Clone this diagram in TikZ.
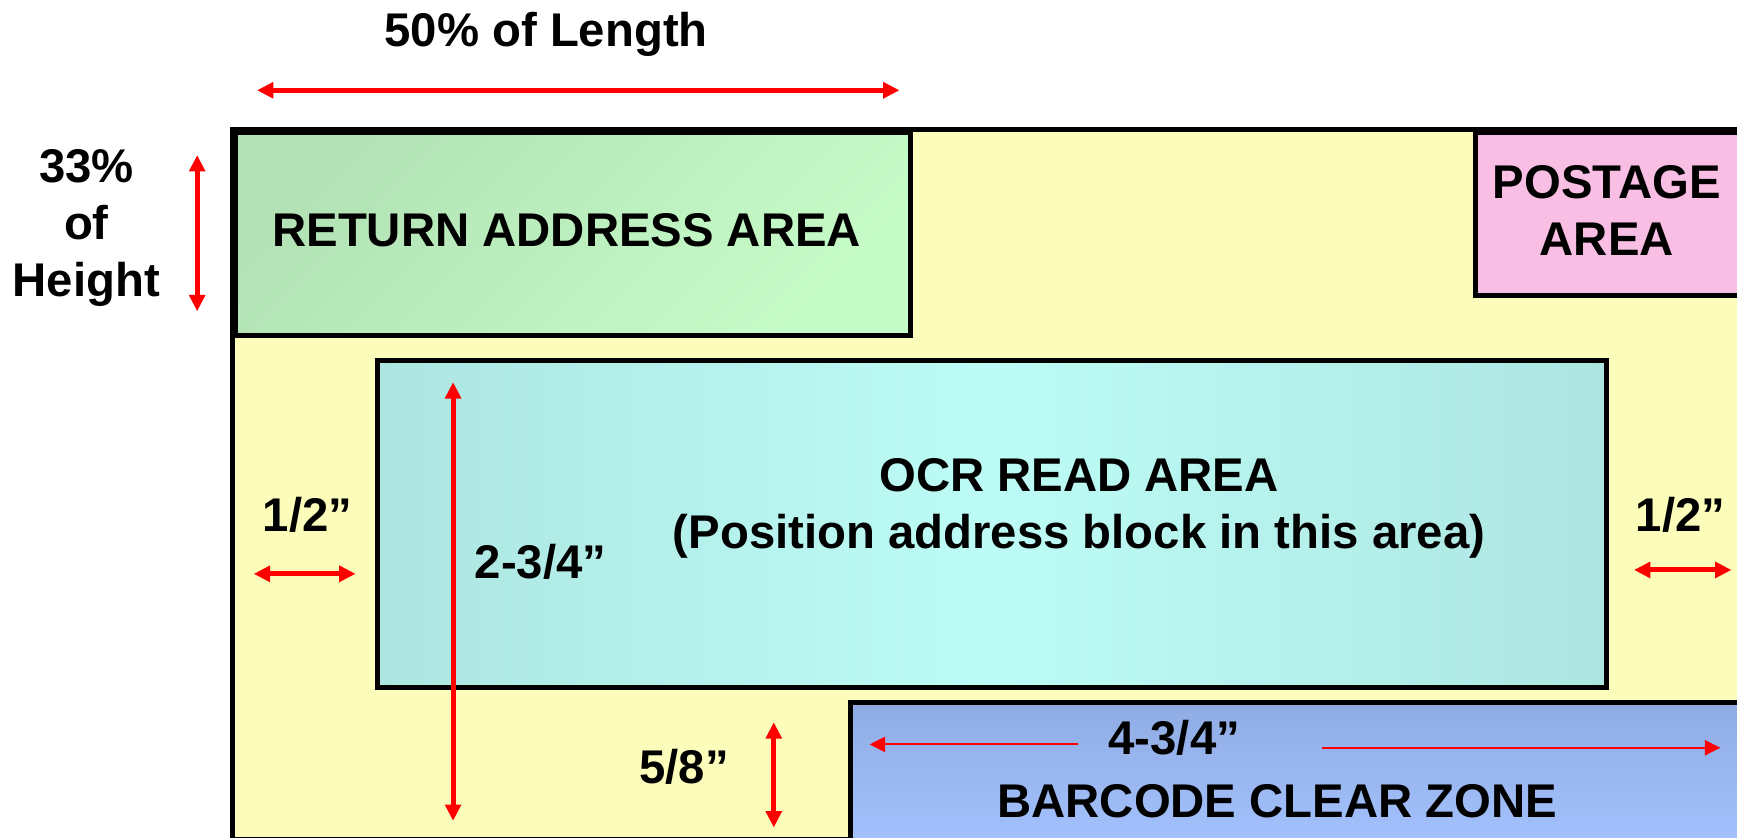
\documentclass[tikz,border=0pt]{standalone}
\usepackage{fontspec}
\setmainfont{Liberation Sans}
\usetikzlibrary{arrows.meta}
\definecolor{envyellow}{HTML}{FCFDBB}
\definecolor{retA}{HTML}{B2E2B5}
\definecolor{retB}{HTML}{C6FCC8}
\definecolor{postpink}{HTML}{F9BEE3}
\definecolor{ocrA}{HTML}{ADE5E1}
\definecolor{ocrB}{HTML}{BDFCF6}
\definecolor{barA}{HTML}{90ACE4}
\definecolor{barB}{HTML}{A3C1FD}
\begin{document}
\begin{tikzpicture}[x=0.1mm,y=-0.1mm,
    lbl/.style={font=\fontsize{12.15}{14.7}\selectfont\bfseries,inner sep=0pt},
    area/.style={line width=1.3pt},
    dim/.style={red,line width=1.3pt,{Triangle[width=4pt,length=4.2pt]}-{Triangle[width=4pt,length=4.2pt]}},
    halfdim/.style={red,line width=0.5pt,-{Triangle[width=3.9pt,length=4pt]}}]
    \useasboundingbox (0,0) rectangle (1568,756);
    %envelope and the areas on it
    \filldraw[area,fill=envyellow] (210,116.8) rectangle (1700,757.5);
    \shadedraw[area,top color=retA,bottom color=retB,shading angle=45] (212.5,119.5) rectangle (821.5,303);
    \filldraw[area,fill=postpink] (1332,119.5) rectangle (1700,266.4);
    \shadedraw[area,left color=ocrA,right color=ocrA,middle color=ocrB] (340.5,325.5) rectangle (1450,620.5);
    \shadedraw[area,top color=barA,bottom color=barB] (768,634) rectangle (1700,762);
    %labels
    \node[lbl,anchor=base] (len) at (493,42) {50\% of Length};
    \node[lbl,align=center] (hgt) at (78,206) {33\%\\of\\Height};
    \node[lbl,anchor=base] (ret) at (511.6,222.6) {RETURN ADDRESS AREA};
    \node[lbl,align=center] (post) at (1450.5,189.7) {POSTAGE\\AREA};
    \node[lbl,align=center] (ocr) at (974,458.8) {OCR READ AREA\\(Position address block in this area)};
    \node[lbl,anchor=base] (lhalf) at (277.5,480) {1/2”};
    \node[lbl,anchor=base] (rhalf) at (1517,480) {1/2”};
    \node[lbl,anchor=base] (ocrh) at (488,522.5) {2-3/4”};
    \node[lbl,anchor=base] (gap) at (617.5,707) {5/8”};
    \node[lbl,anchor=base] (barw) at (1060,681) {4-3/4”};
    \node[lbl,anchor=base] (bar) at (1153,738) {BARCODE CLEAR ZONE};
    %dimension arrows
    \draw[dim] (232,81.5) coordinate (lenA) -- (812,81.5) coordinate (lenB);
    \draw[dim] (178,140) coordinate (hgtA) -- (178,281) coordinate (hgtB);
    \draw[dim] (229,518) coordinate (lhA) -- (321,518) coordinate (lhB);
    \draw[dim] (1475,514.5) coordinate (rhA) -- (1563,514.5) coordinate (rhB);
    \draw[dim] (409,345) coordinate (ocrA) -- (409,741) coordinate (ocrB);
    \draw[dim] (698.5,652) coordinate (gapA) -- (698.5,747) coordinate (gapB);
    \draw[halfdim] (973,672) coordinate (barA) -- (785,672) coordinate (barB);
    \draw[halfdim] (1193,675) coordinate (barC) -- (1553,675) coordinate (barD);
\end{tikzpicture}
\end{document}
